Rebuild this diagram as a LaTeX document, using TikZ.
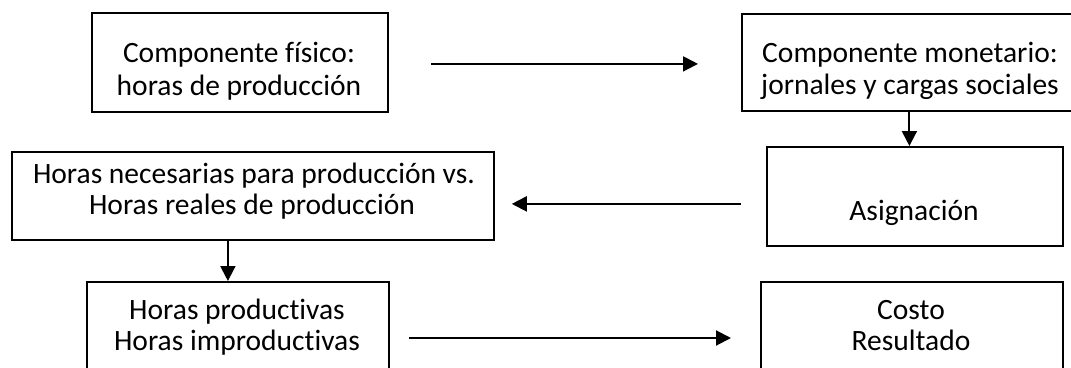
\documentclass[tikz,border=0pt]{standalone}
\usepackage{fontspec}
\setmainfont{Carlito}[Ligatures={NoCommon,NoRequired,NoContextual}]
\usetikzlibrary{arrows.meta}
\begin{document}
\begin{tikzpicture}[x=1pt,y=-1pt,
  box/.style={draw=black,line width=1.8pt,anchor=north west,inner sep=0pt},
  txt/.style={anchor=base,inner sep=0pt,font=\fontsize{29.5}{31}\selectfont},
  arr/.style={line width=2pt,-{Triangle[length=15pt,width=15pt]}}]
\clip (0,0) rectangle (1071,367);
\fill[white] (0,0) rectangle (1071,367);
% boxes
\node[box,minimum width=296pt,minimum height=99pt] (b1) at (91,12) {};
\node[box,minimum width=340pt,minimum height=97pt] (b2) at (741,13) {};
\node[box,minimum width=296pt,minimum height=99pt] (asig) at (766,146) {};
\node[box,minimum width=482pt,minimum height=88pt] (b3) at (11,151) {};
\node[box,minimum width=302pt,minimum height=100pt] (b4) at (86,281) {};
\node[box,minimum width=302pt,minimum height=100pt] (b5) at (760,281) {};
% texts
\node[txt] (t1a) at (239,62) {Componente físico:};
\node[txt] (t1b) at (239,95) {horas de producción};
\node[txt] (t2a) at (910,62) {Componente monetario:};
\node[txt] (t2b) at (910,94) {jornales y cargas sociales};
\node[txt] (tas) at (914,220) {Asignación};
\node[txt] (t3a) at (254,183) {Horas necesarias para producción vs.};
\node[txt] (t3b) at (252,214) {Horas reales de producción};
\node[txt] (t4a) at (237,319) {Horas productivas};
\node[txt] (t4b) at (237,350) {Horas improductivas};
\node[txt] (t5a) at (911,319) {Costo};
\node[txt] (t5b) at (911,350) {Resultado};
% connectors
\draw[arr] ([xshift=42pt,yshift=-1.5pt]b1.east) -- ([xshift=-43pt,yshift=-1.5pt]b1.east -| b2.west);
\draw[arr] ([xshift=-2.5pt]b2.south) -- ([xshift=-2.5pt]b2.south |- asig.north);
\draw[arr] ([xshift=-25pt,yshift=-7.5pt]asig.west) -- ([xshift=17pt,yshift=-7.5pt]asig.west -| b3.east);
\draw[arr] ([xshift=-10pt]b4.north |- b3.south) -- ([xshift=-10pt]b4.north);
\draw[arr] ([xshift=19pt]b4.north east |- 0,338) coordinate (s45) -- ([xshift=-29pt]b5.north west |- s45);
\end{tikzpicture}
\end{document}
